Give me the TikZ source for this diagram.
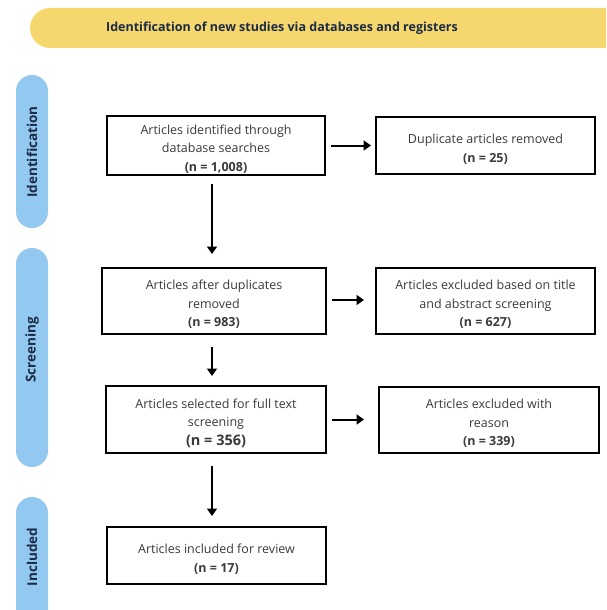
\documentclass[tikz,border=0pt]{standalone}
\usepackage{fontspec}
\setmainfont{Open Sans}
\usetikzlibrary{arrows.meta}
\definecolor{banner}{HTML}{F5D76E}
\definecolor{phase}{HTML}{93C9F0}
\definecolor{phasetext}{HTML}{1C2B45}
\definecolor{boxtext}{HTML}{3A3A3A}
\newcommand\mystrut{\rule{0pt}{16.5pt}}
\tikzset{
  stagebox/.style={draw=black, line width=2pt, fill=white, align=center, inner sep=2pt,
    text=boxtext, font=\fontsize{12.5}{18.5}\selectfont},
  arr/.style={line width=2pt, -{Triangle[length=7.5pt,width=10pt]}},
  phaselabel/.style={rotate=90, font=\fontsize{13.5}{15}\selectfont\bfseries, text=phasetext},
}
\begin{document}
\begin{tikzpicture}[x=1pt,y=-1pt]
\useasboundingbox (0,0) rectangle (606,610);
\begin{scope}
\clip (0,0) rectangle (606,610);
\fill[banner, rounded corners=20pt] (30,8) rectangle (660,48);
\fill[phase, rounded corners=16pt] (16,75) rectangle (48,228);
\fill[phase, rounded corners=16pt] (16,248) rectangle (48,467);
\fill[phase, rounded corners=16pt] (16,497) rectangle (48,650);
\end{scope}
\node[font=\fontsize{12.5}{14}\selectfont\bfseries, text=phasetext] (title) at (282,28) {Identification of new studies via databases and registers};
\node[phaselabel] (pid) at (32,152) {Identification};
\node[phaselabel] (psc) at (32,350) {Screening};
\node[phaselabel] (pin) at (32,557) {Included};

\node[stagebox, minimum width=218pt, minimum height=57pt] (b1) at (216,145.5)
  {\mystrut Articles identified through\\database searches\\\textbf{(n = 1,008)}};
\node[stagebox, minimum width=219pt, minimum height=57pt] (b2) at (485.5,145.5)
  {\mystrut Duplicate articles removed\\\textbf{(n = 25)}};
\node[stagebox, minimum width=224pt, minimum height=66pt] (b3) at (214,301)
  {\mystrut Articles after duplicates\\removed\\\textbf{(n = 983)}};
\node[stagebox, minimum width=219pt, minimum height=66pt] (b4) at (485.5,301)
  {\mystrut Articles excluded based on title\\and abstract screening\\\textbf{(n = 627)}};
\node[stagebox, minimum width=220pt, minimum height=67pt] (b5) at (216,419.5)
  {\mystrut Articles selected for full text\\screening\\{\fontsize{14.5}{18.5}\selectfont\textbf{(n = 356)}}};
\node[stagebox, minimum width=220pt, minimum height=66pt] (b6) at (489,420)
  {\mystrut Articles excluded with\\reason\\\textbf{(n = 339)}};
\node[stagebox, minimum width=219pt, minimum height=57pt] (b7) at (216.5,555.5)
  {\mystrut Articles included for review\\\textbf{(n = 17)}};

\draw[arr] ([xshift=-4pt,yshift=-8pt]b1.south) -- ([xshift=-4pt,yshift=13pt]b1.south |- b3.north);
\draw[arr] ([xshift=-2pt,yshift=-12pt]b3.south) -- ([xshift=-2pt,yshift=9pt]b3.south |- b5.north);
\draw[arr] ([xshift=-4pt,yshift=-12pt]b5.south) -- ([xshift=-4pt,yshift=10pt]b5.south |- b7.north);
\draw[arr] ([xshift=5pt]b1.east) -- ([xshift=-4pt]b1.east -| b2.west);
\draw[arr] ([xshift=5pt,yshift=1pt]b3.east) -- ([xshift=-11pt,yshift=1pt]b3.east -| b4.west);
\draw[arr] ([xshift=5pt]b5.east) -- ([xshift=-14pt]b5.east -| b6.west);
\end{tikzpicture}
\end{document}
